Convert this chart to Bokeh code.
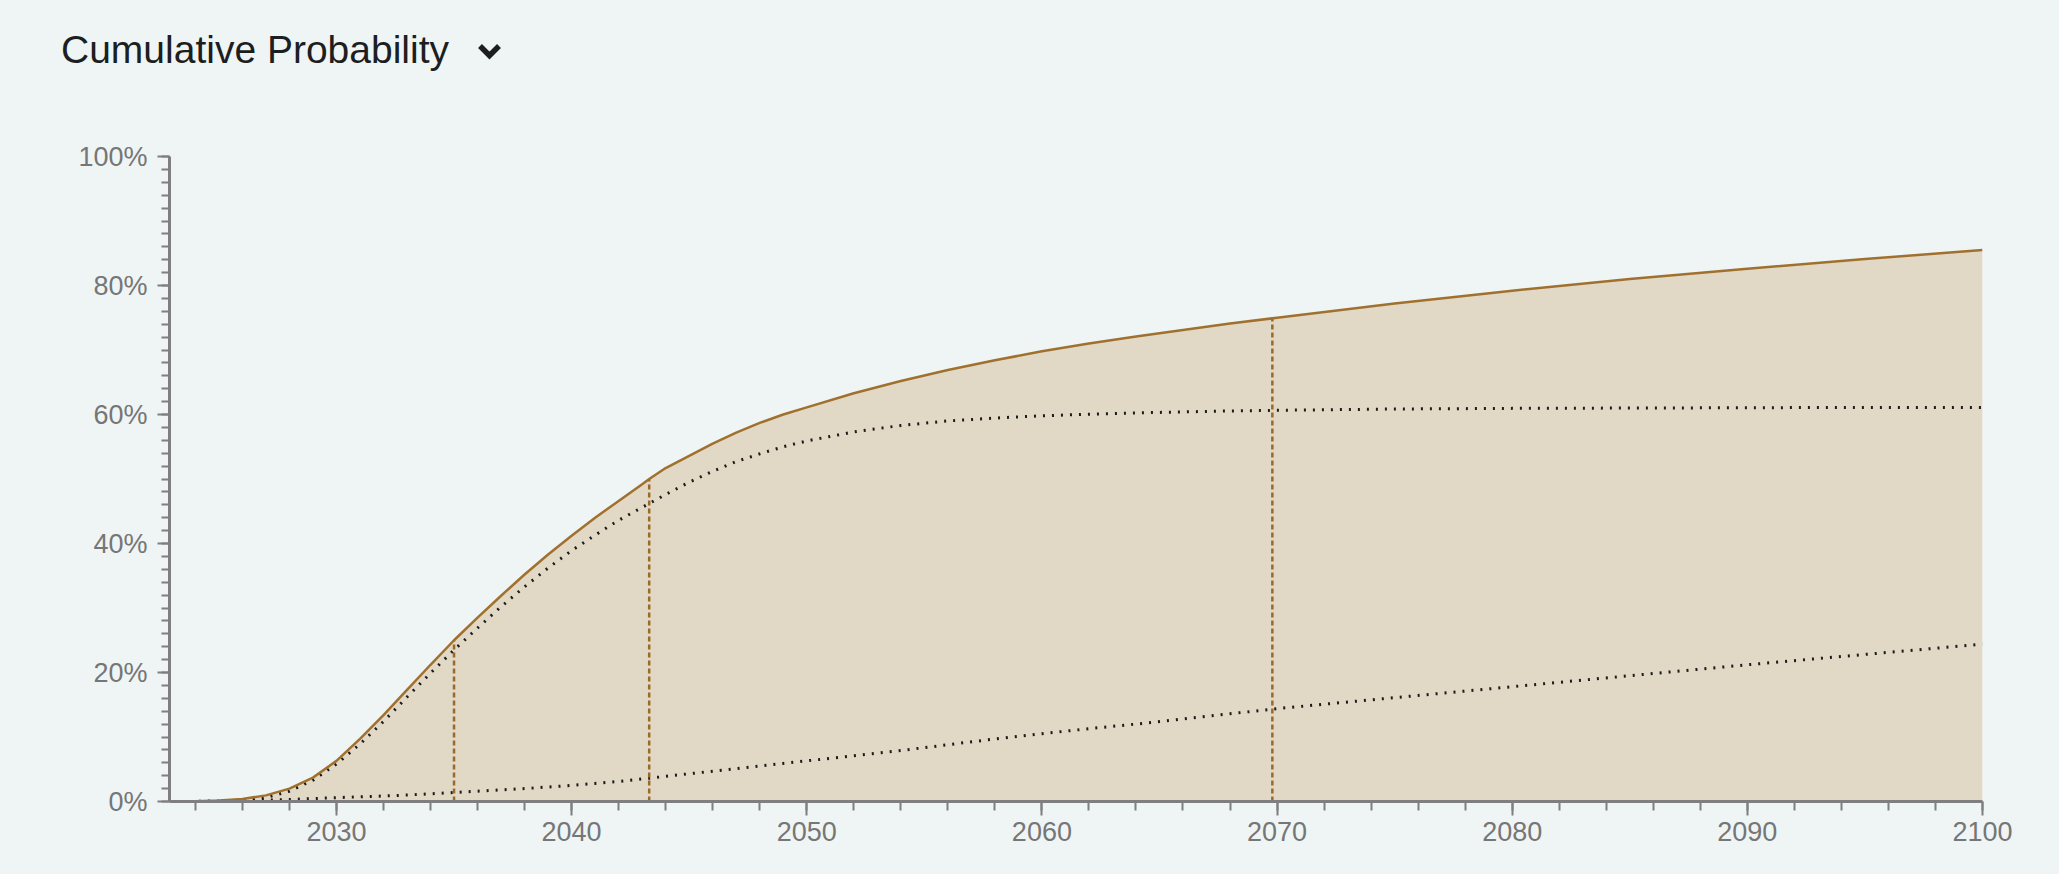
from bokeh.plotting import figure
from bokeh.layouts import column
from bokeh.models import Range1d, SingleIntervalTicker, NumeralTickFormatter, ColumnDataSource, Div
from bokeh.embed import file_html
from bokeh.resources import INLINE

# ---- data ----
years = [2023, 2024, 2025, 2026, 2027, 2028, 2029, 2030, 2031, 2032, 2033, 2034,
         2035, 2036, 2037, 2038, 2039, 2040, 2041, 2042, 2043, 2043.3, 2044, 2045,
         2046, 2047, 2048, 2049, 2050, 2052, 2054, 2056, 2058, 2060, 2062, 2064,
         2066, 2068, 2070, 2075, 2080, 2085, 2090, 2095, 2100]
cumulative = [0, 0.05, 0.15, 0.4, 0.95, 2.0, 3.7, 6.3, 9.7, 13.4, 17.3, 21.2,
              25.0, 28.5, 31.9, 35.2, 38.3, 41.2, 44.0, 46.6, 49.2, 50.0, 51.7, 53.6,
              55.5, 57.2, 58.7, 60.0, 61.1, 63.3, 65.2, 66.9, 68.4, 69.8, 71.0, 72.1,
              73.1, 74.1, 75.0, 77.2, 79.2, 81.0, 82.6, 84.1, 85.5]
component_a = [0, 0.0, 0.05, 0.2, 0.6, 1.6, 3.3, 5.8, 8.9, 12.4, 16.2, 19.9,
               23.5, 26.9, 30.2, 33.3, 36.2, 38.9, 41.3, 43.6, 45.6, 46.2, 47.6, 49.5,
               51.2, 52.7, 53.9, 55.0, 55.9, 57.3, 58.3, 59.0, 59.45, 59.8, 60.05, 60.25,
               60.4, 60.55, 60.65, 60.85, 60.95, 61.0, 61.05, 61.1, 61.1]
component_b = [0, 0.02, 0.05, 0.12, 0.22, 0.32, 0.45, 0.6, 0.72, 0.85, 1.0, 1.2,
               1.4, 1.6, 1.8, 2.0, 2.25, 2.5, 2.8, 3.1, 3.5, 3.6, 3.9, 4.3,
               4.7, 5.1, 5.5, 5.9, 6.3, 7.1, 7.9, 8.8, 9.7, 10.5, 11.3, 12.0,
               12.8, 13.6, 14.4, 16.1, 17.8, 19.5, 21.2, 22.8, 24.4]
quartile_years = [2035.0, 2043.3, 2069.8]
quartile_values = [25, 50, 75]
title_text = "Cumulative Probability"
x_ticks_interval = 10
y_ticks_interval = 0.2

BG = "#eff5f5"
BROWN = "#a0712e"
FILL = "#e1d8c6"
AXIS = "#7f7f7f"
LABEL = "#767676"
INK = "#1c1e21"
FONT = "Liberation Sans"

W, H = 2059, 874
HEAD = 100
LEFT, RIGHT, TOP, BOTTOM = 169, 1982, 156, 801
X0, X1 = 2022.9, 2100

# ---- header strip: title text and dropdown chevron ----
head_html = (
    f'<div style="position:relative;width:{W}px;height:{HEAD}px;background:{BG};overflow:hidden;">'
    f'<span style="position:absolute;left:61px;top:30px;font-family:\'{FONT}\';font-size:39px;'
    f'line-height:1;color:{INK};white-space:nowrap;">{title_text}</span>'
    f'<svg style="position:absolute;left:477px;top:43px;" width="26" height="17" viewBox="0 0 26 17">'
    f'<polyline points="3,3 12.5,12.5 22,3" fill="none" stroke="{INK}" stroke-width="5.5" '
    f'stroke-linecap="butt" stroke-linejoin="miter"/></svg>'
    f'</div>'
)
head = Div(text=head_html, width=W, height=HEAD, margin=0,
           styles={"background-color": BG})

# ---- main chart ----
src = ColumnDataSource(dict(
    x=years,
    y=[v / 100 for v in cumulative],
    a=[v / 100 for v in component_a],
    b=[v / 100 for v in component_b],
    zero=[0] * len(years),
))
qsrc = ColumnDataSource(dict(
    x=quartile_years,
    y=[v / 100 for v in quartile_values],
    zero=[0] * len(quartile_years),
))

p = figure(width=W, height=H - HEAD, x_range=Range1d(X0, X1), y_range=Range1d(0, 1),
           output_backend="svg", toolbar_location=None,
           min_border_left=LEFT, min_border_right=W - RIGHT,
           min_border_top=TOP - HEAD, min_border_bottom=H - BOTTOM)
p.background_fill_color = None
p.border_fill_color = BG
p.outline_line_color = None
p.grid.visible = False

p.varea(x="x", y1="zero", y2="y", source=src, fill_color=FILL)
p.line(x="x", y="a", source=src, line_color="#1b1b1b", line_width=3, line_dash="2 7")
p.line(x="x", y="b", source=src, line_color="#1b1b1b", line_width=3, line_dash="2 7")
p.segment(x0="x", y0="zero", x1="x", y1="y", source=qsrc, line_color="#9c6a28",
          line_width=2.5, line_dash="5 3")
p.line(x="x", y="y", source=src, line_color=BROWN, line_width=2.5)

xa = p.xaxis[0]
xa.ticker = SingleIntervalTicker(interval=x_ticks_interval, num_minor_ticks=5)
ya = p.yaxis[0]
ya.ticker = SingleIntervalTicker(interval=y_ticks_interval, num_minor_ticks=10)
ya.formatter = NumeralTickFormatter(format="0%")

for ax in (xa, ya):
    ax.axis_line_color = AXIS
    ax.axis_line_width = 3
    ax.major_tick_line_color = AXIS
    ax.minor_tick_line_color = AXIS
    ax.major_tick_line_width = 2
    ax.minor_tick_line_width = 2
    ax.major_tick_in = 0
    ax.minor_tick_in = 0
    ax.major_label_text_font = FONT
    ax.major_label_text_font_size = "27px"
    ax.major_label_text_color = LABEL
xa.major_tick_out = 14
xa.minor_tick_out = 9
xa.major_label_standoff = 6
ya.major_tick_out = 12
ya.minor_tick_out = 8
ya.major_label_standoff = 10

layout = column(head, p, spacing=0, styles={"background-color": BG})
open("out.html", "w").write(file_html(layout, INLINE))
